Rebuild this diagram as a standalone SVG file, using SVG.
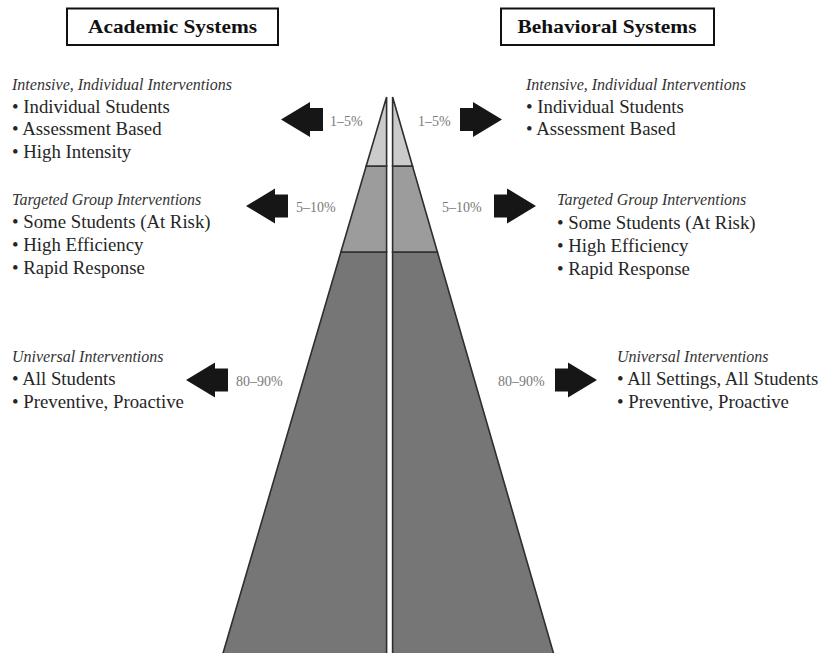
<svg xmlns="http://www.w3.org/2000/svg" xmlns:xlink="http://www.w3.org/1999/xlink" width="820" height="653" viewBox="0 0 820 653">
<style>
text{font-family:"Liberation Serif","Times New Roman",serif;fill:#262626}
.title{font-size:19px;font-weight:bold;fill:#111}
.head{font-size:16px;font-style:italic;fill:#333}
.item{font-size:18.8px}
.pct{font-size:14px;fill:#7a7a7a}
.box{fill:#fff;stroke:#111;stroke-width:2}
.tier{stroke:#2e2e2e;stroke-width:1.6;stroke-linejoin:miter}
.t1{fill:#cbcbcb}.t2{fill:#9c9c9c}.t3{fill:#767676}
.arrow{fill:#161616}
</style>
<defs>
<path id="larrow" d="M0,0 L29,-17.5 L29,-11.5 L42,-11.5 L42,11.5 L29,11.5 L29,17.5 Z"/>
<path id="rarrow" d="M0,0 L-29,-17.5 L-29,-11.5 L-42,-11.5 L-42,11.5 L-29,11.5 L-29,17.5 Z"/>
</defs>
<rect width="820" height="653" fill="#fff"/>

<g id="pyramid">
<polygon class="tier t3" points="340.9,252 386.6,252 386.6,656 222.2,656"/>
<polygon class="tier t2" points="366.2,166 386.6,166 386.6,252 340.9,252"/>
<polygon class="tier t1" points="386.6,97 386.6,166 366.2,166"/>
<polygon class="tier t3" points="392.6,252 437.4,252 554.3,656 392.6,656"/>
<polygon class="tier t2" points="392.6,166 412.5,166 437.4,252 392.6,252"/>
<polygon class="tier t1" points="392.6,97 412.5,166 392.6,166"/>
</g>

<g id="academic-title">
<rect class="box" x="67" y="8.5" width="211" height="36.5"/>
<text class="title" x="172.5" y="33" text-anchor="middle" textLength="169" lengthAdjust="spacingAndGlyphs">Academic Systems</text>
</g>
<g id="behavioral-title">
<rect class="box" x="501" y="8.5" width="213" height="36.5"/>
<text class="title" x="607" y="33" text-anchor="middle" textLength="179" lengthAdjust="spacingAndGlyphs">Behavioral Systems</text>
</g>

<g id="left-intensive">
<text class="head" x="12" y="90">Intensive, Individual Interventions</text>
<text class="item" x="12" y="112.5">• Individual Students</text>
<text class="item" x="12" y="135">• Assessment Based</text>
<text class="item" x="12" y="157.5">• High Intensity</text>
</g>
<g id="left-targeted">
<text class="head" x="12" y="205">Targeted Group Interventions</text>
<text class="item" x="12" y="228">• Some Students (At Risk)</text>
<text class="item" x="12" y="251">• High Efficiency</text>
<text class="item" x="12" y="273.5">• Rapid Response</text>
</g>
<g id="left-universal">
<text class="head" x="12" y="362">Universal Interventions</text>
<text class="item" x="12" y="385">• All Students</text>
<text class="item" x="12" y="408">• Preventive, Proactive</text>
</g>

<g id="right-intensive">
<text class="head" x="526" y="90">Intensive, Individual Interventions</text>
<text class="item" x="526" y="112.5">• Individual Students</text>
<text class="item" x="526" y="135">• Assessment Based</text>
</g>
<g id="right-targeted">
<text class="head" x="557" y="205">Targeted Group Interventions</text>
<text class="item" x="557" y="229">• Some Students (At Risk)</text>
<text class="item" x="557" y="252">• High Efficiency</text>
<text class="item" x="557" y="274.5">• Rapid Response</text>
</g>
<g id="right-universal">
<text class="head" x="617" y="362">Universal Interventions</text>
<text class="item" x="617" y="385">• All Settings, All Students</text>
<text class="item" x="617" y="408">• Preventive, Proactive</text>
</g>

<g id="connectors">
<use href="#larrow" xlink:href="#larrow" class="arrow" x="281" y="119.5"/>
<use href="#larrow" xlink:href="#larrow" class="arrow" x="246" y="206"/>
<use href="#larrow" xlink:href="#larrow" class="arrow" x="186" y="380"/>
<use href="#rarrow" xlink:href="#rarrow" class="arrow" x="502" y="119.5"/>
<use href="#rarrow" xlink:href="#rarrow" class="arrow" x="536" y="206"/>
<use href="#rarrow" xlink:href="#rarrow" class="arrow" x="597" y="380"/>
</g>

<g id="percent-labels">
<text class="pct" x="330" y="125.5">1–5%</text>
<text class="pct" x="418" y="125.5">1–5%</text>
<text class="pct" x="296" y="212">5–10%</text>
<text class="pct" x="442" y="212">5–10%</text>
<text class="pct" x="236" y="386">80–90%</text>
<text class="pct" x="498" y="386">80–90%</text>
</g>
</svg>
